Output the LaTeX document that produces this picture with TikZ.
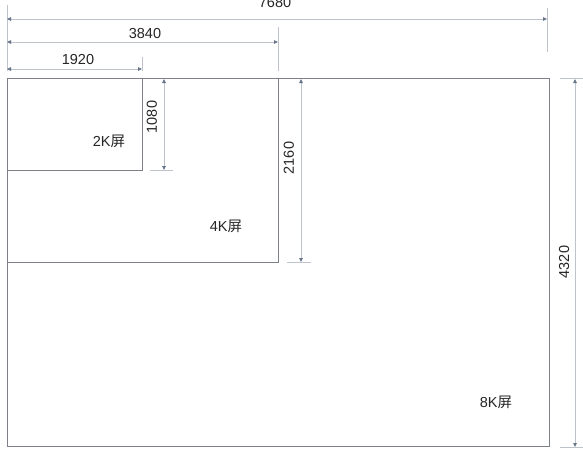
\documentclass[tikz,border=0pt]{standalone}
\usepackage{fontspec}
\setmainfont{Liberation Sans}
\newfontfamily\cjkfont{Noto Sans CJK SC}
\usetikzlibrary{arrows.meta}
\definecolor{boxc}{HTML}{7E8288}
\definecolor{dimc}{HTML}{BEC3CC}
\definecolor{tipc}{HTML}{66748A}
\tikzset{
  screen/.style={draw=boxc, line width=1pt},
  dimline/.style={draw=dimc, line width=0.8pt, {Triangle[length=4pt,width=3.5pt,color=tipc]}-{Triangle[length=4pt,width=3.5pt,color=tipc]}},
  extline/.style={draw=dimc, line width=0.8pt},
  lbl/.style={font=\fontsize{14.5}{16}\selectfont, inner sep=0pt, text=black!85},
  scr/.style={font=\fontsize{14.5}{16}\selectfont, inner sep=0pt, text=black!85}
}
\begin{document}
\begin{tikzpicture}[x=1pt,y=-1pt]
\useasboundingbox[fill=white] (0,0) rectangle (583,456);
% screens
\coordinate (o) at (7,78);
\draw[screen] (o) rectangle (549,446) coordinate (c8);
\draw[screen] (o) rectangle (278,262) coordinate (c4);
\draw[screen] (o) rectangle (142,170) coordinate (c2);
% extension lines (horizontal dims)
\coordinate (e0a) at (7,5);   \coordinate (e0b) at (7,71);
\coordinate (e1a) at (142,57); \coordinate (e1b) at (142,71);
\coordinate (e2a) at (278,27); \coordinate (e2b) at (278,71);
\coordinate (e3a) at (547,8);  \coordinate (e3b) at (547,52);
\draw[extline] (e0a) -- (e0b);
\draw[extline] (e1a) -- (e1b);
\draw[extline] (e2a) -- (e2b);
\draw[extline] (e3a) -- (e3b);
% horizontal dimension lines
\coordinate (h1a) at (7,69);  \coordinate (h1b) at (142,69);
\coordinate (h2a) at (7,42);  \coordinate (h2b) at (278,42);
\coordinate (h3a) at (7,19);  \coordinate (h3b) at (547,19);
\draw[dimline] (h1a) -- (h1b);
\draw[dimline] (h2a) -- (h2b);
\draw[dimline] (h3a) -- (h3b);
\node[lbl] (t1920) at (78,60) {1920};
\node[lbl] (t3840) at (145,34) {3840};
\node[lbl] (t7680) at (275,3) {7680};
% vertical extension ticks
\coordinate (k1a) at (150,170); \coordinate (k1b) at (173,170);
\coordinate (k2a) at (287,262); \coordinate (k2b) at (311,262);
\coordinate (k3a) at (560,78);  \coordinate (k3b) at (583,78);
\coordinate (k4a) at (560,447); \coordinate (k4b) at (583,447);
\draw[extline] (k1a) -- (k1b);
\draw[extline] (k2a) -- (k2b);
\draw[extline] (k3a) -- (k3b);
\draw[extline] (k4a) -- (k4b);
% vertical dimension lines
\coordinate (v1a) at (164,79); \coordinate (v1b) at (164,170);
\coordinate (v2a) at (301,79); \coordinate (v2b) at (301,262);
\coordinate (v3a) at (575,79); \coordinate (v3b) at (575,447);
\draw[dimline] (v1a) -- (v1b);
\draw[dimline] (v2a) -- (v2b);
\draw[dimline] (v3a) -- (v3b);
\node[lbl, rotate=90] (t1080) at (152,117) {1080};
\node[lbl, rotate=90] (t2160) at (289,158) {2160};
\node[lbl, rotate=90] (t4320) at (564,262) {4320};
% screen labels
\node[scr] (s2) at (109,141) {2K{\cjkfont 屏}};
\node[scr] (s4) at (226,226) {4K{\cjkfont 屏}};
\node[scr] (s8) at (496,402) {8K{\cjkfont 屏}};
\end{tikzpicture}
\end{document}
